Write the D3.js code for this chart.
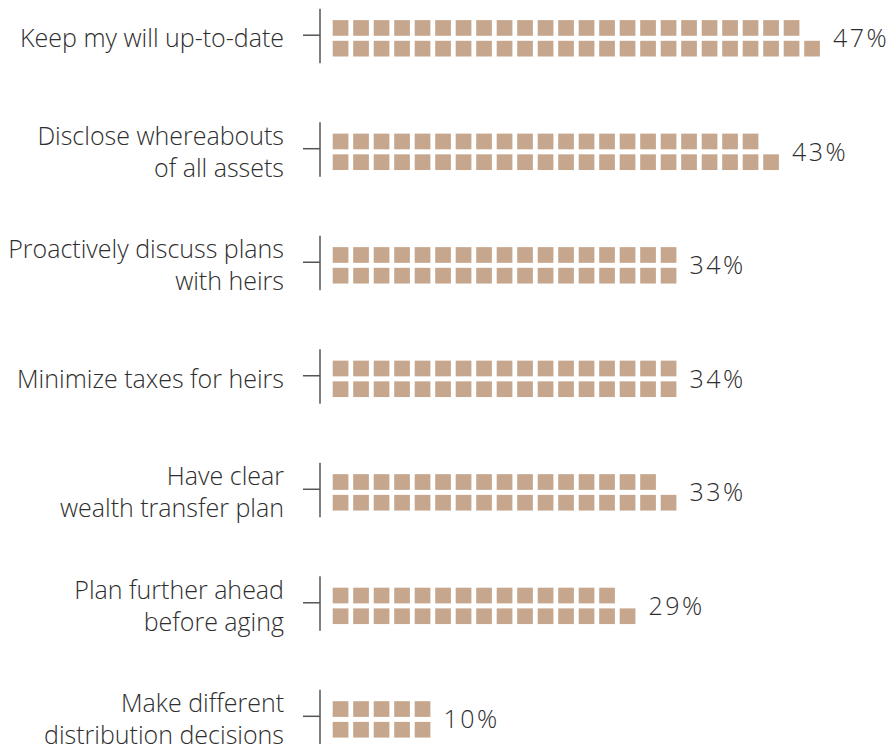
<!DOCTYPE html>
<html>
<head>
<meta charset="utf-8">
<script src="https://cdn.jsdelivr.net/npm/d3@7"></script>
<style>
  html, body { margin: 0; padding: 0; background: #fff; }
  svg { display: block; }
  text { font-family: "Open Sans", "Noto Sans", sans-serif; font-weight: 300; fill: #2e2e2e; }
</style>
</head>
<body>
<svg id="chart" width="891" height="744"></svg>
<script>
// Share of respondents per action; one square per percentage point
const categories = [
  ["Keep my will up-to-date"],
  ["Disclose whereabouts", "of all assets"],
  ["Proactively discuss plans", "with heirs"],
  ["Minimize taxes for heirs"],
  ["Have clear", "wealth transfer plan"],
  ["Plan further ahead", "before aging"],
  ["Make different", "distribution decisions"]
];
const values = [47, 43, 34, 34, 33, 29, 10];
const valueLabels = ["47%", "43%", "34%", "34%", "33%", "29%", "10%"];

const svg = d3.select("#chart");
const fontSize = 25;
const lineHeight = 32;
const squareColor = "#c6a78d";

const y = d3.scalePoint()
  .domain(d3.range(categories.length))
  .range([38.2, 719.3]);

// column index -> x position of a square's left edge
const x = d3.scaleLinear().domain([0, 25]).range([332.7, 332.7 + 25 * 20.5]);
const sq = 15.7;
const rowOffset = [2.6, -18.1]; // bottom row, top row (relative to group centre)

const groups = svg.selectAll("g.row")
  .data(values.map((v, i) => ({ v, i, label: categories[i], text: valueLabels[i] })))
  .join("g")
  .attr("class", "row")
  .attr("transform", d => `translate(0,${y(d.i)})`);

// axis stub and tick for each group
groups.append("line")
  .attr("x1", 320).attr("x2", 320)
  .attr("y1", -29.5).attr("y2", 25)
  .attr("stroke", "#555").attr("stroke-width", 1.5);
groups.append("line")
  .attr("x1", 303).attr("x2", 320)
  .attr("y1", -3).attr("y2", -3)
  .attr("stroke", "#555").attr("stroke-width", 1.5);

// squares: fill bottom row first, then top, column by column
groups.selectAll("rect")
  .data(d => d3.range(d.v).map(k => ({ col: Math.floor(k / 2), row: k % 2 })))
  .join("rect")
  .attr("x", c => x(c.col))
  .attr("y", c => rowOffset[c.row])
  .attr("width", sq)
  .attr("height", sq)
  .attr("fill", squareColor);

// category labels, right-aligned, vertically centred on the group
groups.each(function(d) {
  const g = d3.select(this);
  const n = d.label.length;
  const firstBaseline = 9 - (n - 1) * lineHeight / 2;
  const t = g.append("text")
    .attr("text-anchor", "end")
    .attr("font-size", fontSize);
  d.label.forEach((line, j) => {
    t.append("tspan")
      .attr("x", 284)
      .attr("y", firstBaseline + j * lineHeight)
      .text(line);
  });
});

// value labels after the longer row
groups.append("text")
  .attr("x", d => x(Math.ceil(d.v / 2) - 1) + sq + 13)
  .attr("y", 9)
  .attr("font-size", fontSize)
  .attr("letter-spacing", 2.5)
  .text(d => d.text);
</script>
</body>
</html>
